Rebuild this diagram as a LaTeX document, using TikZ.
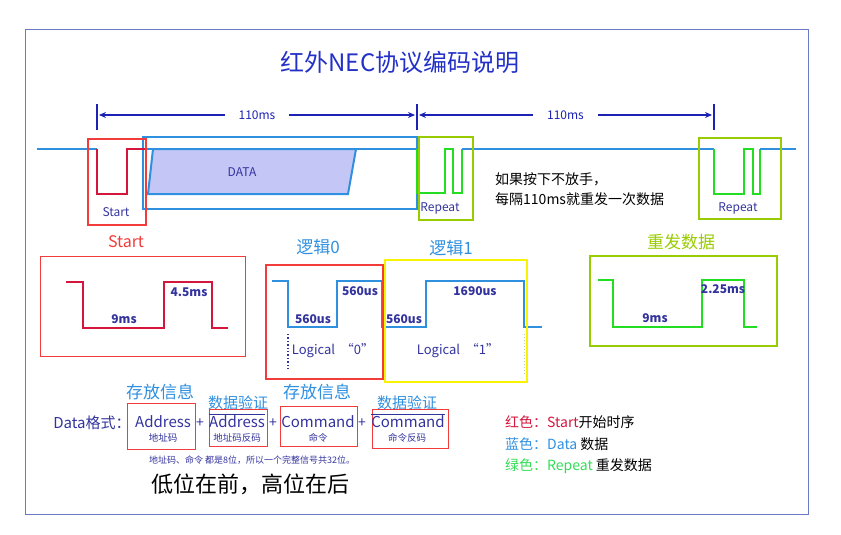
\documentclass[tikz,border=0pt]{standalone}
\usepackage{fontspec}
\setmainfont{Noto Sans CJK SC}
\usetikzlibrary{arrows.meta,positioning}
\definecolor{framec}{HTML}{6B7AC4}
\definecolor{titlec}{HTML}{2330C8}
\definecolor{dimc}{HTML}{1C22B4}
\definecolor{labelc}{HTML}{33339E}
\definecolor{sigblue}{HTML}{3090E0}
\definecolor{boxred}{HTML}{F23B3B}
\definecolor{crimson}{HTML}{D4163C}
\definecolor{siggreen}{HTML}{22DD22}
\definecolor{olive}{HTML}{99CC00}
\definecolor{boxyellow}{HTML}{F8F400}
\definecolor{datafill}{HTML}{C4C6F5}
\definecolor{leggreen}{HTML}{33DD55}

\begin{document}
\begin{tikzpicture}[x=1pt,y=-1pt,
  fs/.style={font=\fontsize{#1}{#1}\selectfont},
  lbl/.style={text=labelc,inner sep=0pt},
  wlbl/.style={text=labelc,inner sep=0pt,font=\fontsize{12}{12}\selectfont\bfseries},
  frame box/.style={draw,line width=2.6pt},
  thin box/.style={draw=boxred,line width=0.9pt},
  sig/.style={line width=2pt,line join=miter},
  wave/.style={line width=2.8pt,line join=miter},
  dim/.style={{Stealth[length=7pt,width=6pt]}-{Stealth[length=7pt,width=6pt]},draw=dimc,line width=1.3pt},
  tick/.style={draw=dimc,line width=1.8pt},
  dimlabel/.style={fill=white,text=dimc,inner xsep=14pt,fs=12}
]
\useasboundingbox (0,0) rectangle (841,535);
\draw[framec,line width=1pt] (25,30) rectangle (808,514);
\node[fs=24,text=titlec,inner sep=0pt] (title) at (400,62) {红外NEC协议编码说明};

% timing marks
\coordinate (t0) at (97,115);
\coordinate (t1) at (417,115);
\coordinate (t2) at (714,115);
\foreach \t in {t0,t1,t2}
  \draw[tick] ([yshift=11pt]\t) -- ([yshift=-15pt]\t);
\draw[dim,shorten <=2pt,shorten >=2pt] (t0) -- node[dimlabel] (d1) {110ms} (t1);
\draw[dim,shorten <=2pt,shorten >=2pt] (t1) -- node[dimlabel] (d2) {110ms} (t2);

% frame of one code
\draw[frame box,draw=sigblue] (143,137) rectangle (417,209);
\draw[sig,sigblue] (37,149) -- (97,149);
\draw[sig,sigblue] (145,149) -- (153,149);
\draw[sig,sigblue,fill=datafill] (153,149) -- (356,149) -- (348,194) -- (148,194) -- cycle;
\node[lbl,fs=12] (data) at (242,172) {DATA};
\draw[sig,sigblue] (356,149) -- (417,149);
\draw[sig,crimson] (97,149) -- (97,194) -- (127,194) -- (127,149) -- (145,149);
\draw[frame box,draw=boxred] (88,139) rectangle (146,225);
\node[lbl,fs=12] (start) at (116,212) {Start};

% repeat codes
\draw[sig,siggreen] (417,149) -- (417,193) -- (445,193) -- (445,149) -- (453,149) -- (453,193) -- (462,193) -- (462,149);
\draw[sig,sigblue] (462,149) -- (714,149);
\draw[sig,siggreen] (714,149) -- (714,194) -- (744,194) -- (744,149) -- (753,149) -- (753,194) -- (760,194) -- (760,149);
\draw[sig,sigblue] (760,149) -- (796,149);
\draw[frame box,draw=olive] (419,137) rectangle (473,220);
\draw[frame box,draw=olive] (699,138) rectangle (781,219);
\node[lbl,fs=12] (rep1) at (440,208) {Repeat};
\node[lbl,fs=12] (rep2) at (738,208) {Repeat};
\node[anchor=west,fs=14,inner sep=0pt,align=left] (hold) at (495,189) {如果按下不放手，\\[6pt]每隔110ms就重发一次数据};

% start timing
\node[text=boxred,fs=16,inner sep=0pt] (starthd) at (126,242) {Start};
\draw[thin box] (40,256) rectangle (245,356);
\draw[wave,crimson] (66,282) -- (83,282) -- (83,328) -- (164,328) -- (164,282) -- (212,282) -- (212,328) -- (228,328);
\node[wlbl] (s9) at (124,319) {9ms};
\node[wlbl] (s45) at (189,292) {4.5ms};

% logic 0 and 1
\node[text=sigblue,fs=17,inner sep=0pt] (l0hd) at (318,247) {逻辑0};
\node[text=sigblue,fs=17,inner sep=0pt] (l1hd) at (451,248) {逻辑1};
\draw[wave,sigblue] (272,281) -- (288,281) -- (288,327) -- (337,327) -- (337,281) -- (382,281) -- (382,327) -- (426,327) -- (426,281) -- (524,281) -- (524,327) -- (542,327);
\draw[frame box,draw=boxred] (266,265) rectangle (383,379);
\draw[frame box,draw=boxyellow] (385,260) rectangle (527,382);
\draw[labelc,line width=1.4pt,dotted] (288,334) -- (288,370);
\draw[black!25,line width=1pt,dotted] (524,334) -- (524,375);
\node[wlbl] (u1) at (313,319) {560us};
\node[wlbl] (u2) at (360,291) {560us};
\node[wlbl] (u3) at (404,319) {560us};
\node[wlbl] (u4) at (475,291) {1690us};
\node[lbl,fs=13] (lg0) at (333,351) {Logical\ \ “0”};
\node[lbl,fs=13] (lg1) at (458,351) {Logical\ \ “1”};

% repeat timing
\node[text=olive,fs=17,inner sep=0pt] (rephd) at (681,242) {重发数据};
\draw[frame box,draw=olive] (590,256) rectangle (777,346);
\draw[wave,siggreen] (598,280) -- (613,280) -- (613,327) -- (702,327) -- (702,280) -- (744,280) -- (744,327) -- (757,327);
\node[wlbl] (r9) at (655,318) {9ms};
\node[wlbl] (r225) at (723,289) {2.25ms};

% data format
\node[lbl,fs=15] (fmt) at (92,423) {Data格式：};
\draw[thin box] (127,403) rectangle (195,449);
\draw[thin box] (209,409) rectangle (267,446);
\draw[thin box] (280,406) rectangle (357,446);
\draw[thin box] (372,409) rectangle (448,448);
\node[text=sigblue,fs=17,inner sep=0pt] (inf1) at (160,392) {存放信息};
\node[text=sigblue,fs=15,inner sep=0pt] (chk1) at (238,403) {数据验证};
\node[text=sigblue,fs=17,inner sep=0pt] (inf2) at (317,392) {存放信息};
\node[text=sigblue,fs=15,inner sep=0pt] (chk2) at (407,403) {数据验证};
\node[lbl,fs=15] (adr) at (163,422) {Address};
\node[lbl,fs=15] (nadr) at (237,421) {$\overline{\hbox{Address}}$};
\node[lbl,fs=15] (cmd) at (318,422) {Command};
\node[lbl,fs=15] (ncmd) at (408,421) {$\overline{\hbox{Command}}$};
\node[lbl,fs=14] at (200,423) {+};
\node[lbl,fs=14] at (273,423) {+};
\node[lbl,fs=14] at (362,423) {+};
\node[lbl,fs=9.5] (adrz) at (163,438) {地址码};
\node[lbl,fs=9.5] (nadrz) at (237,438) {地址码反码};
\node[lbl,fs=9.5] (cmdz) at (318,438) {命令};
\node[lbl,fs=9.5] (ncmdz) at (407,438) {命令反码};
\node[lbl,fs=9] (note) at (252,460) {地址码、命令 都是8位，所以一个完整信号共32位。};
\node[fs=22,inner sep=0pt] (order) at (250,484) {低位在前，高位在后};

% legend
\node[anchor=west,fs=14,inner sep=0pt] (key1) at (505,422) {\textcolor{crimson}{红色：Start}开始时序};
\node[anchor=west,fs=14,inner sep=0pt] (key2) at (505,444) {\textcolor{sigblue}{蓝色：Data} 数据};
\node[anchor=west,fs=14,inner sep=0pt] (key3) at (505,466) {\textcolor{leggreen}{绿色：Repeat} 重发数据};
\end{tikzpicture}
\end{document}
